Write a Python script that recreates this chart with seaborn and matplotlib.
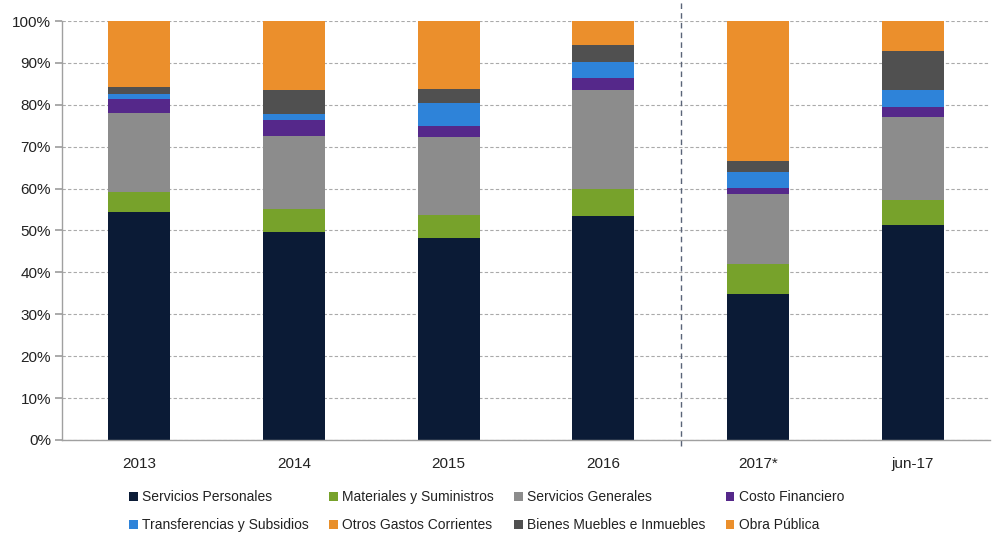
import pandas as pd
import numpy as np
import matplotlib
matplotlib.use("Agg")
import matplotlib.pyplot as plt
from matplotlib.patches import Patch
import seaborn as sns

# Values (% of total spending)
years = ["2013", "2014", "2015", "2016", "2017*", "jun-17"]
series = ["Servicios Personales", "Materiales y Suministros", "Servicios Generales",
          "Costo Financiero", "Transferencias y Subsidios", "Otros Gastos Corrientes",
          "Bienes Muebles e Inmuebles", "Obra Pública"]
servicios_personales = [54.3, 49.6, 48.2, 53.4, 34.9, 51.2]
materiales = [5.0, 5.5, 5.6, 6.4, 7.2, 6.1]
servicios_generales = [18.7, 17.4, 18.4, 23.7, 16.6, 19.9]
costo_financiero = [3.5, 3.8, 2.8, 2.8, 1.4, 2.2]
transferencias = [1.1, 1.5, 5.5, 3.8, 3.9, 4.1]
otros_gastos = [0.0, 0.0, 0.0, 0.0, 0.0, 0.0]
bienes_muebles = [1.7, 5.7, 3.3, 4.2, 2.7, 9.4]
obra_publica = [15.7, 16.5, 16.2, 5.7, 33.3, 7.1]

colors = ["#0B1B36", "#77A22B", "#8C8C8C", "#55288A", "#2E83D9", "#E88F2A", "#505050", "#EB8F2C"]

df = pd.DataFrame({
    "Year": years,
    series[0]: servicios_personales,
    series[1]: materiales,
    series[2]: servicios_generales,
    series[3]: costo_financiero,
    series[4]: transferencias,
    series[5]: otros_gastos,
    series[6]: bienes_muebles,
    series[7]: obra_publica,
})
cum = df[series].cumsum(axis=1)
cum["Year"] = df["Year"]

sns.set_theme(style="white")
plt.rcParams["font.family"] = ["Liberation Sans", "DejaVu Sans"]

fig = plt.figure(figsize=(9.94, 5.33), dpi=100)
ax = fig.add_axes([0.0624, 0.1745, 0.9336, 0.7861])

# stacked bars: draw cumulative totals from the top layer down
for name, col in reversed(list(zip(series, colors))):
    sns.barplot(data=cum, x="Year", y=name, color=col, width=0.4,
                saturation=1, ax=ax, edgecolor="none", linewidth=0)

ax.set_ylim(0, 100)
ax.set_xlim(-0.5, 5.5)
ax.set_yticks(np.arange(0, 101, 10))
ax.set_yticklabels([f"{v}%" for v in range(0, 101, 10)])
ax.yaxis.grid(True, linestyle=(0, (3, 2)), color="#AAAAAA", linewidth=0.8)
ax.set_axisbelow(True)
ax.set_xlabel("")
ax.set_ylabel("")

for s in ["top", "right"]:
    ax.spines[s].set_visible(False)
for s in ["left", "bottom"]:
    ax.spines[s].set_color("#A0A0A0")
    ax.spines[s].set_linewidth(1.0)

ax.tick_params(axis="x", which="major", length=0, pad=12, labelsize=11, labelcolor="#222222")
ax.set_xticks(np.arange(0.5, 5.5, 1), minor=True)
ax.tick_params(axis="x", which="minor", length=5, color="#A0A0A0", direction="out")
ax.tick_params(axis="y", length=5, color="#A0A0A0", direction="out", left=True,
               labelsize=11, labelcolor="#222222", pad=3)

# separator between annual and partial data
ax.axvline(3.5, ymin=-0.015, ymax=1.05, color="#5A6478", linestyle=(0, (4, 3)),
           linewidth=1, clip_on=False)

# legend filled row by row (matplotlib fills columns first)
handles = [Patch(facecolor=c, edgecolor="none", label=n) for n, c in zip(series, colors)]
order = [0, 4, 1, 5, 2, 6, 3, 7]
fig.legend(handles=[handles[i] for i in order], ncol=4, loc="upper left",
           bbox_to_anchor=(0.13, 0.080), frameon=False, fontsize=10,
           handlelength=0.6, handleheight=0.6, handletextpad=0.3,
           columnspacing=1.5, labelspacing=1.0, labelcolor="#222222",
           borderaxespad=0, borderpad=0)

fig.savefig("out.png", dpi=100)
